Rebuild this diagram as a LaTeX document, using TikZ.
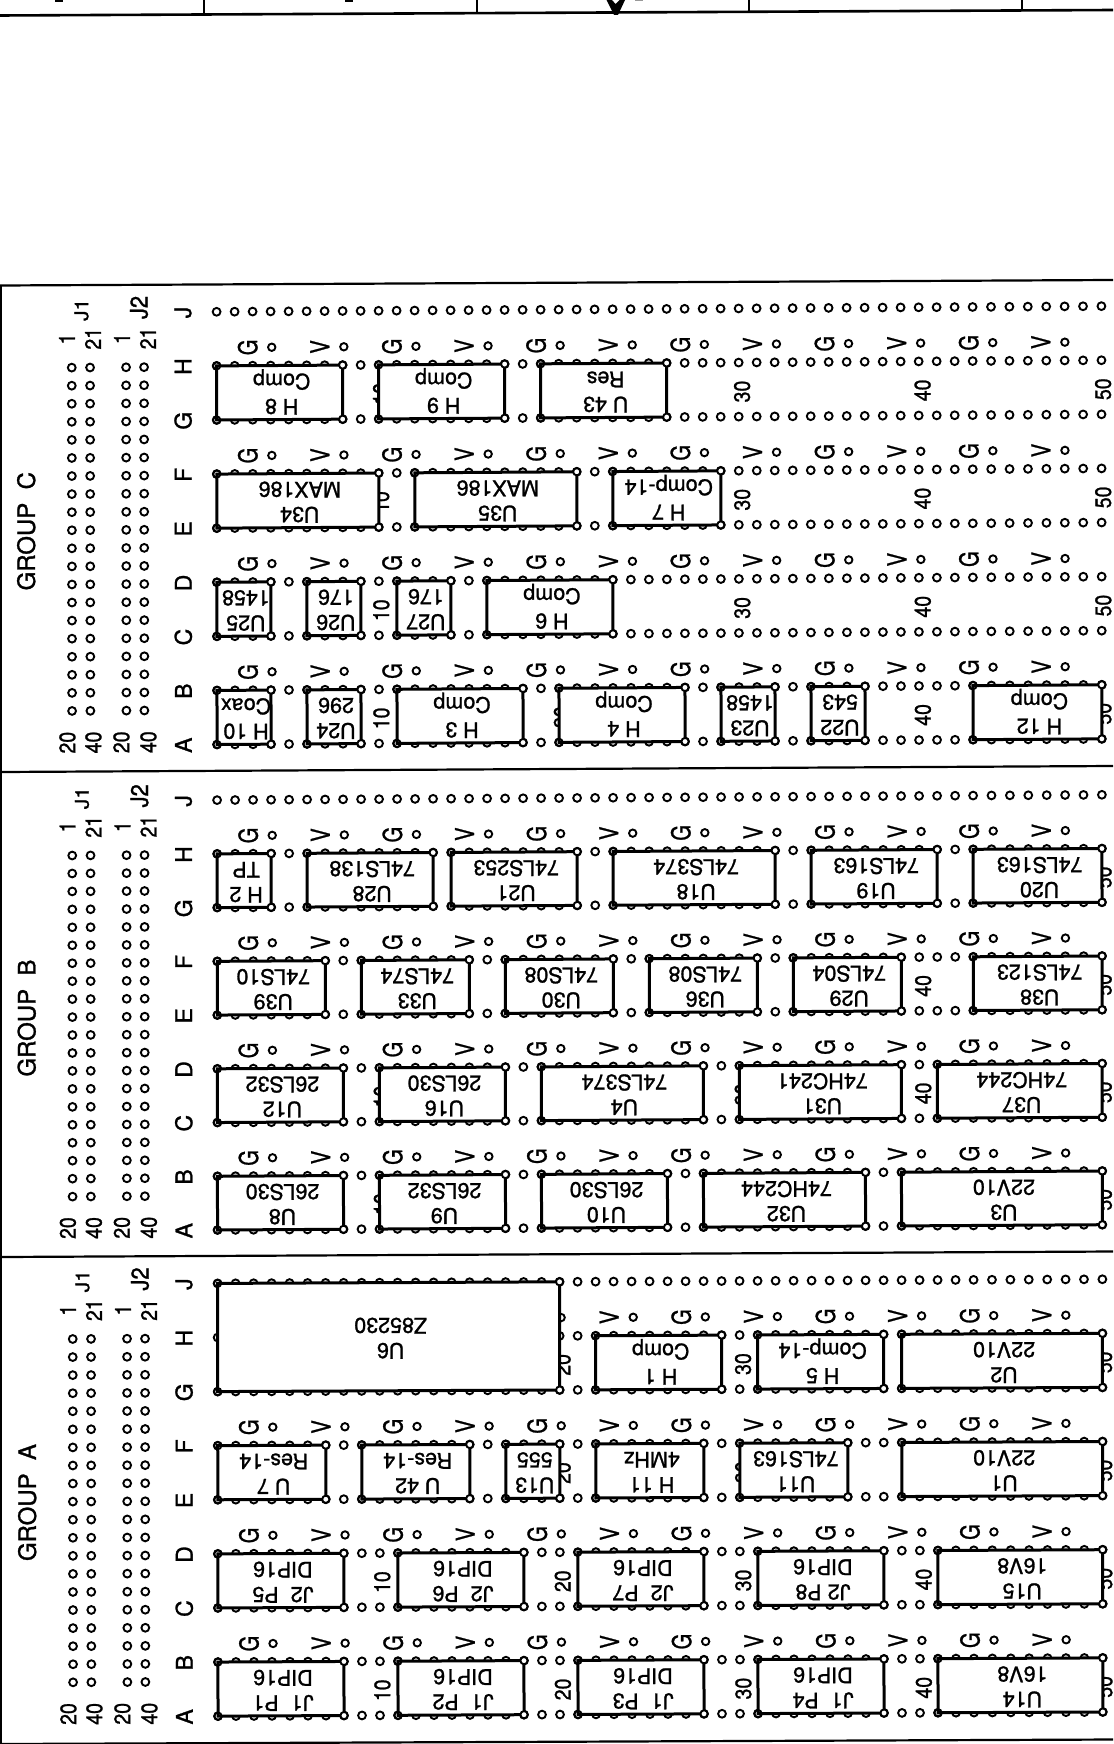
\documentclass[tikz,border=0pt]{standalone}
\usepackage{graphicx}
\usepackage{fontspec}
\setmainfont[FakeBold=1.2]{TeX Gyre Heros}
\pgfmathdeclarefunction{xcol}{1}{\pgfmathparse{#1<29.5 ? 216.6+18*(#1-1) : (#1<43.5 ? 720.6+18*(#1-29) : 972.6+18.4*(#1-43))}}
\tikzset{
  hole/.style={draw=black,line width=1.9pt},
  chipbox/.style={draw=black,fill=white,line width=3pt,line join=miter},
  chiptext/.style={rotate=180,anchor=base,inner sep=0pt,font=\fontsize{21.5}{21.5}\selectfont},
  numtext/.style={rotate=90,anchor=center,inner sep=0pt,font=\fontsize{19.5}{20}\selectfont},
  rowtext/.style={rotate=90,anchor=center,inner sep=0pt,font=\fontsize{23}{23}\selectfont},
  gvtext/.style={rotate=90,anchor=center,inner sep=0pt,font=\fontsize{20}{20}\selectfont},
  grouptext/.style={rotate=90,anchor=center,inner sep=0pt,font=\fontsize{24}{24}\selectfont},
  rule/.style={draw=black,line width=2.2pt},
}
\newcommand\tall[2][1.15]{\scalebox{1}[#1]{#2}}
\newcommand\chipspan[6]{%
  \pgfmathsetmacro\yt{311.8+54.09*(#1)}%
  \pgfmathsetmacro\yb{311.8+54.09*(#2)}%
  \pgfmathsetmacro\xl{xcol(#3)}%
  \pgfmathsetmacro\xr{xcol(#4)}%
  \pgfmathsetmacro\xm{(\xl+\xr)/2+2}%
  \pgfmathsetmacro\ybase{(\yt+\yb)/2-27}%
  \draw[chipbox] (\xl,\yt) rectangle (\xr,\yb);
  \draw[hole,fill=white] (\xr,\yt) circle[radius=3.6pt] (\xr,\yb) circle[radius=3.6pt];
  \draw[hole] (\xl,\yt) circle[radius=3.6pt] (\xl,\yb) circle[radius=3.6pt];
  \node[chiptext] (chip-\gname-#1-#3-type) at (\xm,{\ybase+8.3}) {#6};
  \node[chiptext] (chip-\gname-#1-#3-name) at (\xm,{\ybase+33.5}) {#5};
}
\newcommand\chip[5]{\chipspan{#1}{#1+1}{#2}{#3}{#4}{#5}}
% group: name, Y0, s, m, title, chips
\newcommand\boardgroup[6]{%
  \def\gname{#1}%
  \pgfmathsetmacro\cmb{#4}%
  \pgfmathsetmacro\cmc{-0.001*#3}%
  \pgfmathsetmacro\cme{0.001*(#2-311.7*#3-312)}%
  \pgfmathsetmacro\cmf{-(#2-311.7*#3+216.5*#4)}%
  \begin{scope}[cm={1,\cmb,\cmc,#3,(\cme pt,\cmf pt)}]
    % main holes
    \foreach \k in {0,...,8}{
      \pgfmathsetmacro\yy{311.8+54.09*\k}
      \path[hole] \foreach \i in {1,...,50}{ ({xcol(\i)},\yy) circle[radius=3.9pt] };
    }
    % J1 J2 holes
    \foreach \xx in {71.7,90,126,144}{
      \path[hole] \foreach \j in {0,...,19}{ (\xx,{366.7+18.07*\j}) circle[radius=3.9pt] };
    }
    % power holes and labels, numbers
    \foreach \k in {1,3,5,7}{
      \pgfmathsetmacro\yy{311.8+54.09*\k-18.3}
      \pgfmathsetmacro\ym{311.8+54.09*\k+29}
      \foreach \h/\t in {0/G,1/V,2/G,3/V,4/G,5/V,6/G,7/V,8/G,9/V,10/G,11/V}{
        \pgfmathsetmacro\xx{271.7+72.1*\h}
        \draw[hole] (\xx,\yy) circle[radius=3.7pt];
        \node[gvtext] (pw-\gname-\k-\h) at ({\xx-24},\yy) {\tall[1.3]{\t}};
      }
      \foreach \h/\t in {0/10,1/20,2/30,3/40,4/50}{
        \node[numtext] (num-\gname-\k-\t) at ({381+180.5*\h},\ym) {\tall{\t}};
      }
    }
    % row letters
    \foreach \k/\t in {0/J,1/H,2/G,3/F,4/E,5/D,6/C,7/B,8/A}{
      \node[rowtext] (row-\gname-\t) at (183,{312.3+54.09*\k}) {\t};
    }
    % connector labels
    \node[numtext] (a1-\gname) at (67,338) {\tall{1}};
    \node[numtext] (b1-\gname) at (93,338) {\tall{21}};
    \node[numtext] (c1-\gname) at (122,338) {\tall{1}};
    \node[numtext] (d1-\gname) at (148,338) {\tall{21}};
    \node[numtext] (a2-\gname) at (67,741.7) {\tall{20}};
    \node[numtext] (b2-\gname) at (93,741.7) {\tall{40}};
    \node[numtext] (c2-\gname) at (121,741.7) {\tall{20}};
    \node[numtext] (d2-\gname) at (148,741.7) {\tall{40}};
    \node[numtext,font=\fontsize{21}{21}\selectfont] (j1-\gname) at (81.5,309) {\tall[0.9]{J1}};
    \node[numtext,font=\fontsize{22}{22}\selectfont] (j2-\gname) at (139,307) {\tall[1.1]{J2}};
    \node[grouptext] (title-\gname) at (26,530) {#5};
    #6
  \end{scope}
}
\begin{document}
\begin{tikzpicture}[x=1pt,y=-1pt]
  \useasboundingbox[fill=white] (0,0) rectangle (1113,1744);
  % top strip
  \coordinate (tl) at (0,15.5); \coordinate (tr) at (1113,10);
  \draw[rule,line width=2.6pt] (tl) -- (tr);
  \foreach \xx/\yy in {204/14.5,477/13,749/11.7,1022/10.5}{
    \draw[black,line width=1.6pt] (\xx,0) -- (\xx,\yy);
  }
  \fill[black] (606.5,0) -- (612,0) -- (615.5,4) -- (619.5,0) -- (625,0) -- (618,15) -- (614,15) -- cycle;
  \fill[black] (55,0) rectangle (63,2.2);
  \fill[black] (345,0) rectangle (353,2.2);
  \fill[black!40] (635,0) rectangle (643,1);
  % frame
  \draw[rule] (0,285.5) -- (1113,280);
  \draw[rule] (0,772) -- (1113,766);
  \draw[rule] (0,1257) -- (1113,1251.5);
  \draw[rule] (0,1744) -- (1113,1739.5);
  \draw[rule] (1.3,285.5) -- (1.3,1744);

  \boardgroup{C}{311.7}{1}{0.0064}{GROUP\ \ C}{%
    \chip{1}{1}{8}{H 8}{Comp}
    \chip{1}{10}{17}{H 9}{Comp}
    \chip{1}{19}{26}{U 43}{Res}
    \chip{3}{1}{10}{U34}{MAX186}
    \chip{3}{12}{21}{U35}{MAX186}
    \chip{3}{23}{29}{H 7}{Comp-14}
    \chip{5}{1}{4}{U25}{1458}
    \chip{5}{6}{9}{U26}{176}
    \chip{5}{11}{14}{U27}{176}
    \chip{5}{16}{23}{H 6}{Comp}
    \chip{7}{1}{4}{H 10}{Coax}
    \chip{7}{6}{9}{U24}{296}
    \chip{7}{11}{18}{H 3}{Comp}
    \chip{7}{20}{27}{H 4}{Comp}
    \chip{7}{29}{32}{U23}{1458}
    \chip{7}{34}{37}{U22}{543}
    \chip{7}{43}{50}{H 12}{Comp}
  }
  \boardgroup{B}{800}{0.9935}{0.006}{GROUP\ \ B}{%
    \chip{1}{1}{4}{H 2}{TP}
    \chip{1}{6}{13}{U28}{74LS138}
    \chip{1}{14}{21}{U21}{74LS253}
    \chip{1}{23}{32}{U18}{74LS374}
    \chip{1}{34}{41}{U19}{74LS163}
    \chip{1}{43}{50}{U20}{74LS163}
    \chip{3}{1}{7}{U39}{74LS10}
    \chip{3}{9}{15}{U33}{74LS74}
    \chip{3}{17}{23}{U30}{74LS08}
    \chip{3}{25}{31}{U36}{74LS08}
    \chip{3}{33}{39}{U29}{74LS04}
    \chip{3}{43}{50}{U38}{74LS123}
    \chip{5}{1}{8}{U12}{26LS32}
    \chip{5}{10}{17}{U16}{26LS30}
    \chip{5}{19}{28}{U4}{74LS374}
    \chip{5}{30}{39}{U31}{74HC241}
    \chip{5}{41}{50}{U37}{74HC244}
    \chip{7}{1}{8}{U8}{26LS30}
    \chip{7}{10}{17}{U9}{26LS32}
    \chip{7}{19}{26}{U10}{26LS30}
    \chip{7}{28}{37}{U32}{74HC244}
    \chip{7}{39}{50}{U3}{22V10}
  }
  \boardgroup{A}{1283.3}{1}{0.0047}{GROUP\ \ A}{%
    \chipspan{0}{2}{1}{20}{U6}{Z85230}
    \chip{1}{22}{29}{H 1}{Comp}
    \chip{1}{31}{38}{H 5}{Comp-14}
    \chip{1}{39}{50}{U2}{22V10}
    \chip{3}{1}{7}{U 7}{Res-14}
    \chip{3}{9}{15}{U 42}{Res-14}
    \chip{3}{17}{20}{U13}{555}
    \chip{3}{22}{28}{H 11}{4MHz}
    \chip{3}{30}{36}{U11}{74LS163}
    \chip{3}{39}{50}{U1}{22V10}
    \chip{5}{1}{8}{J2\ \ P5}{DIP16}
    \chip{5}{11}{18}{J2\ \ P6}{DIP16}
    \chip{5}{21}{28}{J2\ \ P7}{DIP16}
    \chip{5}{31}{38}{J2 P8}{DIP16}
    \chip{5}{41}{50}{U15}{16V8}
    \chip{7}{1}{8}{J1\ \ P1}{DIP16}
    \chip{7}{11}{18}{J1\ \ P2}{DIP16}
    \chip{7}{21}{28}{J1\ \ P3}{DIP16}
    \chip{7}{31}{38}{J1\ \ P4}{DIP16}
    \chip{7}{41}{50}{U14}{16V8}
  }
\end{tikzpicture}
\end{document}
